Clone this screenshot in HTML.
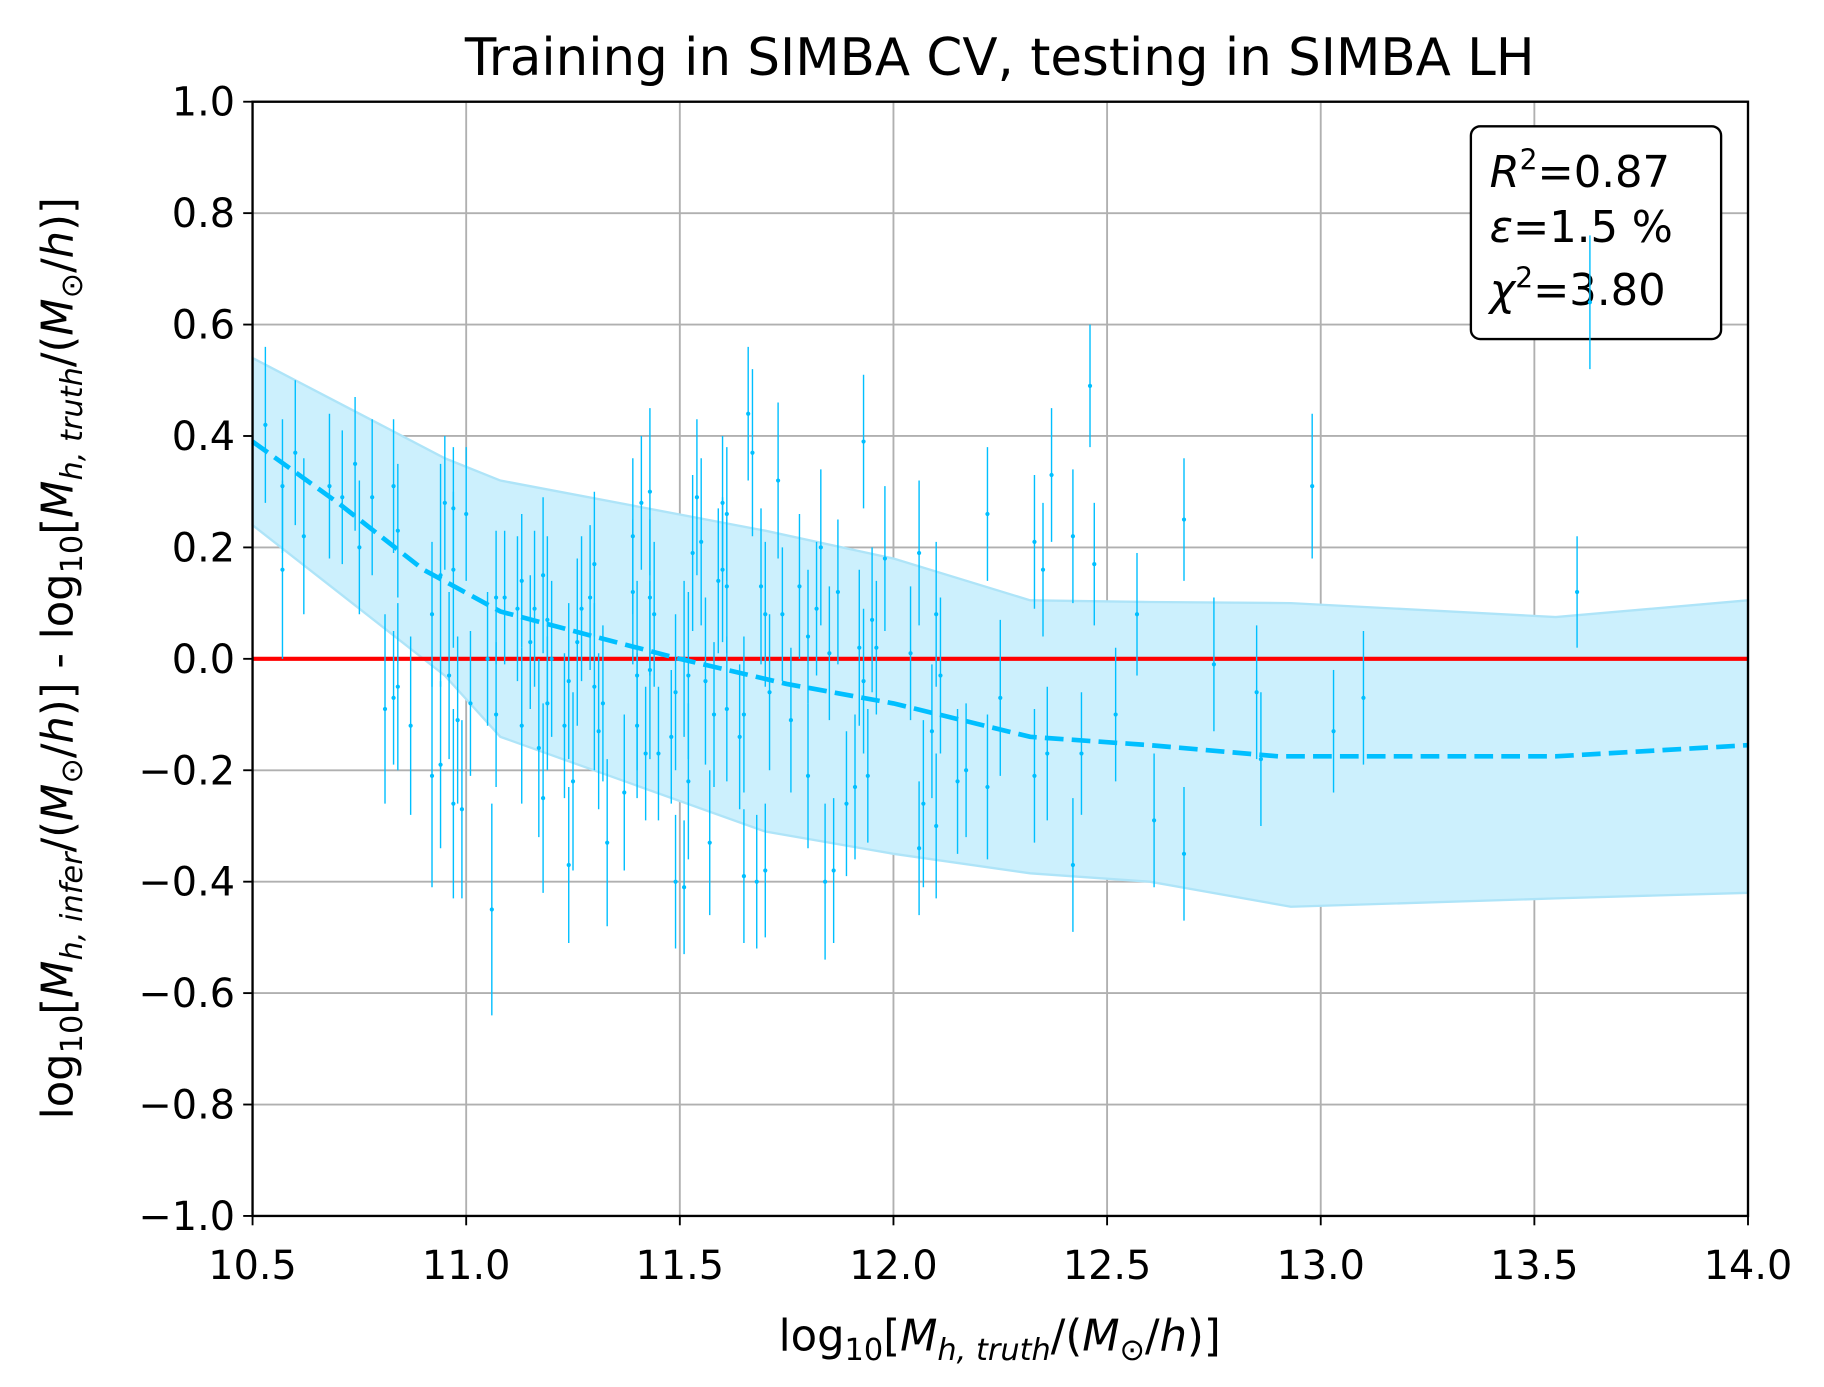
<!DOCTYPE html>
<html><head><meta charset="utf-8">
<style>
html,body{margin:0;padding:0;background:#fff;}
svg{display:block;font-family:"DejaVu Sans","Liberation Sans",sans-serif;}
</style></head>
<body>
<svg id="chart" width="1824" height="1387" viewBox="0 0 1560 1186.3" preserveAspectRatio="none" xmlns="http://www.w3.org/2000/svg">
<rect width="1560" height="1187" fill="#fff"/>
<text x="855" y="64" font-size="44" text-anchor="middle">Training in SIMBA CV, testing in SIMBA LH</text>
<g id="grid"></g>
<g id="band"></g>
<line x1="216" x2="1495" y1="563.5" y2="563.5" stroke="#ff0000" stroke-width="3.5"/>
<g>
<rect x="1258" y="108" width="214" height="182" rx="8" fill="#fff" stroke="#000" stroke-width="2"/>
<text x="1274" y="160" font-size="37"><tspan font-style="italic">R</tspan><tspan font-size="24" dy="-15">2</tspan><tspan dy="15">=0.87</tspan></text>
<text x="1274" y="207" font-size="37"><tspan font-style="italic">ε</tspan>=1.5 %</text>
<text x="1274" y="261" font-size="37"><tspan font-style="italic">χ</tspan><tspan font-size="24" dy="-15">2</tspan><tspan dy="15">=3.80</tspan></text>
</g>
<g id="pts"></g>
<g id="mean"></g>
<rect x="216" y="87" width="1279" height="953" fill="none" stroke="#000" stroke-width="2"/>
<g id="ticks" font-size="34"></g>
<text x="855" y="1155" font-size="37" text-anchor="middle">log<tspan font-size="26" dy="8">10</tspan><tspan dy="-8">[</tspan><tspan font-style="italic">M</tspan><tspan font-size="26" dy="8" font-style="italic">h, truth</tspan><tspan dy="-8">/(</tspan><tspan font-style="italic">M</tspan><tspan font-size="26" dy="8">⊙</tspan><tspan dy="-8">/</tspan><tspan font-style="italic">h</tspan>)]</text>
<text transform="translate(62,563) rotate(-90)" font-size="37" text-anchor="middle">log<tspan font-size="26" dy="8">10</tspan><tspan dy="-8">[</tspan><tspan font-style="italic">M</tspan><tspan font-size="26" dy="8" font-style="italic">h, infer</tspan><tspan dy="-8">/(</tspan><tspan font-style="italic">M</tspan><tspan font-size="26" dy="8">⊙</tspan><tspan dy="-8">/</tspan><tspan font-style="italic">h</tspan>)] - log<tspan font-size="26" dy="8">10</tspan><tspan dy="-8">[</tspan><tspan font-style="italic">M</tspan><tspan font-size="26" dy="8" font-style="italic">h, truth</tspan><tspan dy="-8">/(</tspan><tspan font-style="italic">M</tspan><tspan font-size="26" dy="8">⊙</tspan><tspan dy="-8">/</tspan><tspan font-style="italic">h</tspan>)]</text>
</svg>
<script>
const xTicks=[10.5,11.0,11.5,12.0,12.5,13.0,13.5,14.0];
const yTicks=[1.0,0.8,0.6,0.4,0.2,0.0,-0.2,-0.4,-0.6,-0.8,-1.0];
const ptX=[10.53,10.57,10.57,10.60,10.62,10.68,10.71,10.74,10.75,10.78,10.81,10.83,10.83,10.84,10.84,10.87,10.92,10.92,10.94,10.94,10.95,10.96,10.97,10.97,10.97,10.98,10.99,11.00,11.01,11.05,11.06,11.07,11.07,11.09,11.12,11.13,11.13,11.15,11.16,11.17,11.18,11.18,11.19,11.19,11.20,11.23,11.24,11.24,11.25,11.26,11.27,11.29,11.30,11.30,11.31,11.32,11.33,11.37,11.39,11.39,11.40,11.40,11.41,11.42,11.43,11.43,11.43,11.44,11.45,11.48,11.49,11.49,11.51,11.51,11.52,11.52,11.53,11.54,11.55,11.56,11.57,11.58,11.59,11.60,11.60,11.61,11.61,11.61,11.64,11.65,11.65,11.66,11.67,11.68,11.69,11.70,11.70,11.71,11.73,11.74,11.76,11.78,11.80,11.80,11.82,11.83,11.84,11.85,11.86,11.87,11.89,11.91,11.92,11.93,11.93,11.94,11.95,11.96,11.98,12.04,12.06,12.06,12.07,12.09,12.10,12.10,12.11,12.15,12.17,12.22,12.22,12.25,12.33,12.33,12.35,12.36,12.37,12.42,12.42,12.44,12.46,12.47,12.57,12.52,12.61,12.68,12.68,12.75,12.85,12.86,12.98,13.03,13.10,13.60,13.63];
const ptY=[0.42,0.31,0.16,0.37,0.22,0.31,0.29,0.35,0.20,0.29,-0.09,0.31,-0.07,0.23,-0.05,-0.12,0.08,-0.21,0.15,-0.19,0.28,-0.03,0.27,-0.26,0.16,-0.11,-0.27,0.26,-0.08,0.0,-0.45,0.11,-0.10,0.11,0.09,0.14,-0.12,0.03,0.09,-0.16,-0.25,0.15,0.07,-0.08,0.0,-0.12,-0.04,-0.37,-0.22,0.03,0.09,0.11,-0.05,0.17,-0.13,-0.08,-0.33,-0.24,0.22,0.12,-0.03,-0.12,0.28,-0.17,0.30,0.11,-0.02,0.08,-0.17,-0.14,-0.06,-0.40,0.0,-0.41,-0.22,-0.03,0.19,0.29,0.21,-0.04,-0.33,-0.10,0.14,0.28,0.16,0.26,0.13,-0.09,-0.14,-0.39,-0.10,0.44,0.37,-0.40,0.13,0.08,-0.38,-0.06,0.32,0.08,-0.11,0.13,-0.21,0.04,0.09,0.20,-0.40,0.01,-0.38,0.12,-0.26,-0.23,0.02,-0.04,0.39,-0.21,0.07,0.02,0.18,0.01,0.19,-0.34,-0.26,-0.13,0.08,-0.30,-0.03,-0.22,-0.20,-0.23,0.26,-0.07,-0.21,0.21,0.16,-0.17,0.33,0.22,-0.37,-0.17,0.49,0.17,0.08,-0.10,-0.29,0.25,-0.35,-0.01,-0.06,-0.18,0.31,-0.13,-0.07,0.12,0.64];
const ptErr=[0.14,0.12,0.16,0.13,0.14,0.13,0.12,0.12,0.12,0.14,0.17,0.12,0.12,0.12,0.15,0.16,0.13,0.2,0.2,0.15,0.12,0.15,0.11,0.17,0.14,0.15,0.16,0.12,0.13,0.12,0.19,0.12,0.13,0.12,0.13,0.12,0.14,0.12,0.14,0.16,0.17,0.14,0.15,0.12,0.14,0.13,0.14,0.14,0.16,0.15,0.13,0.13,0.15,0.13,0.14,0.14,0.15,0.14,0.14,0.13,0.17,0.13,0.12,0.12,0.15,0.14,0.16,0.13,0.12,0.12,0.14,0.12,0.14,0.12,0.14,0.15,0.14,0.14,0.15,0.15,0.13,0.13,0.13,0.12,0.13,0.12,0.12,0.13,0.13,0.12,0.14,0.12,0.15,0.12,0.14,0.13,0.12,0.14,0.14,0.12,0.13,0.13,0.13,0.12,0.12,0.14,0.14,0.12,0.13,0.13,0.13,0.13,0.14,0.13,0.12,0.12,0.13,0.12,0.13,0.12,0.13,0.12,0.15,0.12,0.13,0.13,0.14,0.13,0.12,0.13,0.12,0.14,0.12,0.12,0.12,0.12,0.12,0.12,0.12,0.11,0.11,0.11,0.11,0.12,0.12,0.11,0.12,0.12,0.12,0.12,0.13,0.11,0.12,0.1,0.12];
const bandX=[10.5,10.95,11.08,11.7,12.0,12.32,12.6,12.93,13.55,14.0];
const bandHi=[0.54,0.36,0.32,0.23,0.18,0.105,0.102,0.1,0.075,0.105];
const bandLo=[0.24,-0.03,-0.14,-0.31,-0.35,-0.385,-0.4,-0.445,-0.43,-0.42];
const meanX=[10.5,10.7,10.9,11.08,11.3,11.5,11.75,12.0,12.32,12.6,12.9,13.55,14.0];
const meanY=[0.39,0.28,0.16,0.085,0.04,0.0,-0.045,-0.08,-0.14,-0.155,-0.175,-0.175,-0.155];
const NS='http://www.w3.org/2000/svg';
const X=v=>216+(v-10.5)/3.5*1279;
const Y=v=>563.5-v*476.5;
function mk(t,a,p){const e=document.createElementNS(NS,t);for(const k in a)e.setAttribute(k,a[k]);p.appendChild(e);return e;}
const grid=document.getElementById('grid'),ticks=document.getElementById('ticks');
xTicks.forEach(v=>{
 const g=mk('line',{x1:X(v),x2:X(v),y1:87,y2:1040,stroke:'#b0b0b0','stroke-width':1.6},grid);
 
 
 const t=mk('line',{x1:X(v),x2:X(v),y1:1040,y2:1048,stroke:'#000','stroke-width':1.6},ticks);
 
 
 const l=mk('text',{x:X(v),y:1094,'text-anchor':'middle'},ticks);l.textContent=v.toFixed(1);
 
 
});
yTicks.forEach(v=>{
 const g=mk('line',{x1:216,x2:1495,y1:Y(v),y2:Y(v),stroke:'#b0b0b0','stroke-width':1.6},grid);
 
 
 const t=mk('line',{x1:208,x2:216,y1:Y(v),y2:Y(v),stroke:'#000','stroke-width':1.6},ticks);
 
 
 const l=mk('text',{x:201,y:Y(v)+12,'text-anchor':'end'},ticks);l.textContent=(v<0?'\u2212':'')+Math.abs(v).toFixed(1);
 
 
});
let d='M'+bandX.map((x,i)=>X(x)+','+Y(bandHi[i])).join(' L');
for(let i=bandX.length-1;i>=0;i--)d+=' L'+X(bandX[i])+','+Y(bandLo[i]);
const b=mk('path',{d:d+'Z',fill:'#ccf0fd',stroke:'#aee4f8','stroke-width':2},document.getElementById('band'));


const pts=document.getElementById('pts');
ptX.forEach((x,i)=>{
 const e=mk('line',{x1:X(x),x2:X(x),y1:Y(ptY[i]+ptErr[i]),y2:Y(ptY[i]-ptErr[i]),stroke:'#00bfff','stroke-width':1.2},pts);
 
 
 const c=mk('circle',{cx:X(x),cy:Y(ptY[i]),r:1.8,fill:'#00bfff'},pts);
 
 
});
const m=mk('polyline',{points:meanX.map((x,i)=>X(x)+','+Y(meanY[i])).join(' '),fill:'none',stroke:'#00bfff','stroke-width':4,'stroke-dasharray':'16,7'},document.getElementById('mean'));


</script>
</body></html>
